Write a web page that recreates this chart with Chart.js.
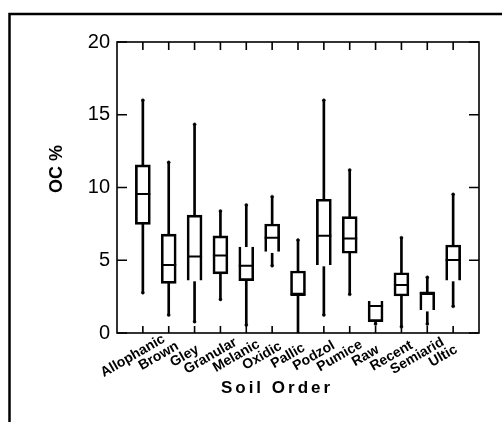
<!DOCTYPE html>
<html><head><meta charset="utf-8">
<script src="https://cdn.jsdelivr.net/npm/chart.js@4.4.1/dist/chart.umd.min.js"></script>
<style>html,body{margin:0;padding:0;background:#fff;} #wrap{width:502px;height:422px;position:relative;}</style>
</head><body><div id="wrap"><canvas id="c"></canvas></div>
<script>
// ---- data ----
const categories = ['Allophanic','Brown','Gley','Granular','Melanic','Oxidic','Pallic','Podzol','Pumice','Raw','Recent','Semiarid','Ultic'];
const boxLow          = [7.47, 3.41, 3.60, 4.06, 3.60, 5.59, 2.61, 4.67, 5.48, 0.78, 2.54, 1.58, 3.60];
const boxHigh         = [11.55, 6.80, 8.10, 6.67, 5.93, 7.49, 4.26, 9.19, 8.00, 2.20, 4.14, 2.77, 6.05];
const medians         = [9.55, 4.67, 5.25, 5.32, 4.63, 6.55, 2.61, 6.69, 6.50, 1.86, 3.30, 2.77, 5.02];
const whiskerMin      = [2.77, 1.24, 0.78, 2.31, 0.55, 4.63, 0.00, 1.24, 2.66, 0.62, 0.43, 0.62, 1.83];
const lowerWhiskerTop = [7.47, 3.41, 3.53, 4.06, 3.60, 5.48, 2.61, 4.56, 5.48, 0.78, 2.54, 1.46, 3.53];
const whiskerMax      = [16.0, 11.73, 14.34, 8.38, 8.80, 9.37, 6.39, 16.0, 11.2, 2.20, 6.55, 3.83, 9.53];
const openEnd         = ['', '', 'bottom', '', 'top', 'bottom', '', 'bottom', '', 'top', '', 'bottom', 'bottom'];
const yTicks = [0, 5, 10, 15, 20];
const yTitle = 'OC %';
const xTitle = 'Soil Order';

// ---- build library structures ----
const pad = a => [null, ...a, null];
const labels = ['', ...categories, ''];
const upperW = pad(categories.map((_, i) => whiskerMax[i] > boxHigh[i] ? [boxHigh[i], whiskerMax[i]] : null));
const lowerW = pad(categories.map((_, i) => whiskerMin[i] < lowerWhiskerTop[i] ? [whiskerMin[i], lowerWhiskerTop[i]] : null));
const boxes = pad(categories.map((_, i) => [boxLow[i], boxHigh[i]]));
const topDots = pad(categories.map((_, i) => whiskerMax[i] > boxHigh[i] ? whiskerMax[i] : null));
const botDots = pad(categories.map((_, i) => (whiskerMin[i] < lowerWhiskerTop[i] && whiskerMin[i] > 0) ? whiskerMin[i] : null));

const FONT = "'Liberation Sans', Arial, sans-serif";
const INK = '#000';

const decor = {
  id: 'decor',
  afterDraw(chart) {
    const {ctx, chartArea: a, scales: {x, y}} = chart;
    ctx.save();
    ctx.strokeStyle = INK; ctx.fillStyle = INK;
    // outer frame (left and top edges)
    ctx.lineWidth = 2.5;
    ctx.beginPath(); ctx.moveTo(9.5, 422); ctx.lineTo(9.5, 14); ctx.lineTo(502, 14); ctx.stroke();
    // plot border
    ctx.lineWidth = 1.6;
    ctx.strokeRect(a.left, a.top, a.right - a.left, a.bottom - a.top);
    // y ticks inside, both sides
    yTicks.forEach(v => {
      const py = y.getPixelForValue(v);
      ctx.beginPath(); ctx.moveTo(a.left, py); ctx.lineTo(a.left + 10, py);
      ctx.moveTo(a.right, py); ctx.lineTo(a.right - 10, py); ctx.stroke();
    });
    // x ticks inside, top & bottom
    categories.forEach((c, i) => {
      const px = x.getPixelForValue(i + 1);
      ctx.beginPath(); ctx.moveTo(px, a.bottom); ctx.lineTo(px, a.bottom - 7);
      ctx.moveTo(px, a.top); ctx.lineTo(px, a.top + 8); ctx.stroke();
    });
    // x tick labels, rotated
    ctx.font = "bold 14px " + FONT;
    ctx.textAlign = 'center'; ctx.textBaseline = 'middle';
    categories.forEach((c, i) => {
      const px = x.getPixelForValue(i + 1);
      ctx.save(); ctx.translate(px - 10, a.bottom + 23); ctx.rotate(-30 * Math.PI / 180);
      ctx.fillText(c, 0, 0); ctx.restore();
    });
    // y title
    ctx.font = "bold 18px " + FONT;
    ctx.save(); ctx.translate(57, 169); ctx.rotate(-Math.PI / 2); ctx.fillText(yTitle, 0, 0); ctx.restore();
    // x title
    ctx.font = "bold 17px " + FONT;
    ctx.letterSpacing = '3px';
    ctx.fillText(xTitle, 277, 388);
    ctx.restore();
  }
};

new Chart(document.getElementById('c'), {
  type: 'bar',
  data: {
    labels,
    datasets: [
      { type: 'line', data: pad(medians), showLine: false, pointStyle: 'line', pointRadius: 7.5, pointHoverRadius: 7.5,
        pointBorderWidth: 2, pointHoverBorderWidth: 2, borderColor: INK, pointBorderColor: INK },
      { type: 'line', data: topDots, showLine: false, pointStyle: 'circle', pointRadius: 1.5, pointHoverRadius: 1.5,
        pointBackgroundColor: INK, pointBorderColor: INK, pointBorderWidth: 0.5 },
      { type: 'line', data: botDots, showLine: false, pointStyle: 'circle', pointRadius: 1.5, pointHoverRadius: 1.5,
        pointBackgroundColor: INK, pointBorderColor: INK, pointBorderWidth: 0.5 },
      { data: boxes, grouped: false, barThickness: 15, backgroundColor: 'rgba(255,255,255,0)', borderColor: INK, borderWidth: 2,
        borderSkipped: ctx => openEnd[ctx.dataIndex - 1] || false },
      { data: upperW, grouped: false, barThickness: 2, backgroundColor: INK, borderWidth: 0, borderSkipped: false },
      { data: lowerW, grouped: false, barThickness: 2, backgroundColor: INK, borderWidth: 0, borderSkipped: false }
    ]
  },
  options: {
    responsive: true, maintainAspectRatio: false, animation: false, events: [],
    layout: { padding: { left: 0, top: 42, right: 23, bottom: 0 } },
    plugins: { legend: { display: false }, tooltip: { enabled: false } },
    scales: {
      x: { type: 'category', offset: false, grid: { display: false, drawTicks: false }, border: { display: false },
           ticks: { display: false }, afterFit: s => { s.height = 89; } },
      y: { min: 0, max: 20, grid: { display: false, drawTicks: false }, border: { display: false },
           ticks: { stepSize: 5, padding: 7, color: INK, font: { family: FONT, size: 20 } },
           afterFit: s => { s.width = 117; } }
    }
  },
  plugins: [decor]
});
</script></body></html>
